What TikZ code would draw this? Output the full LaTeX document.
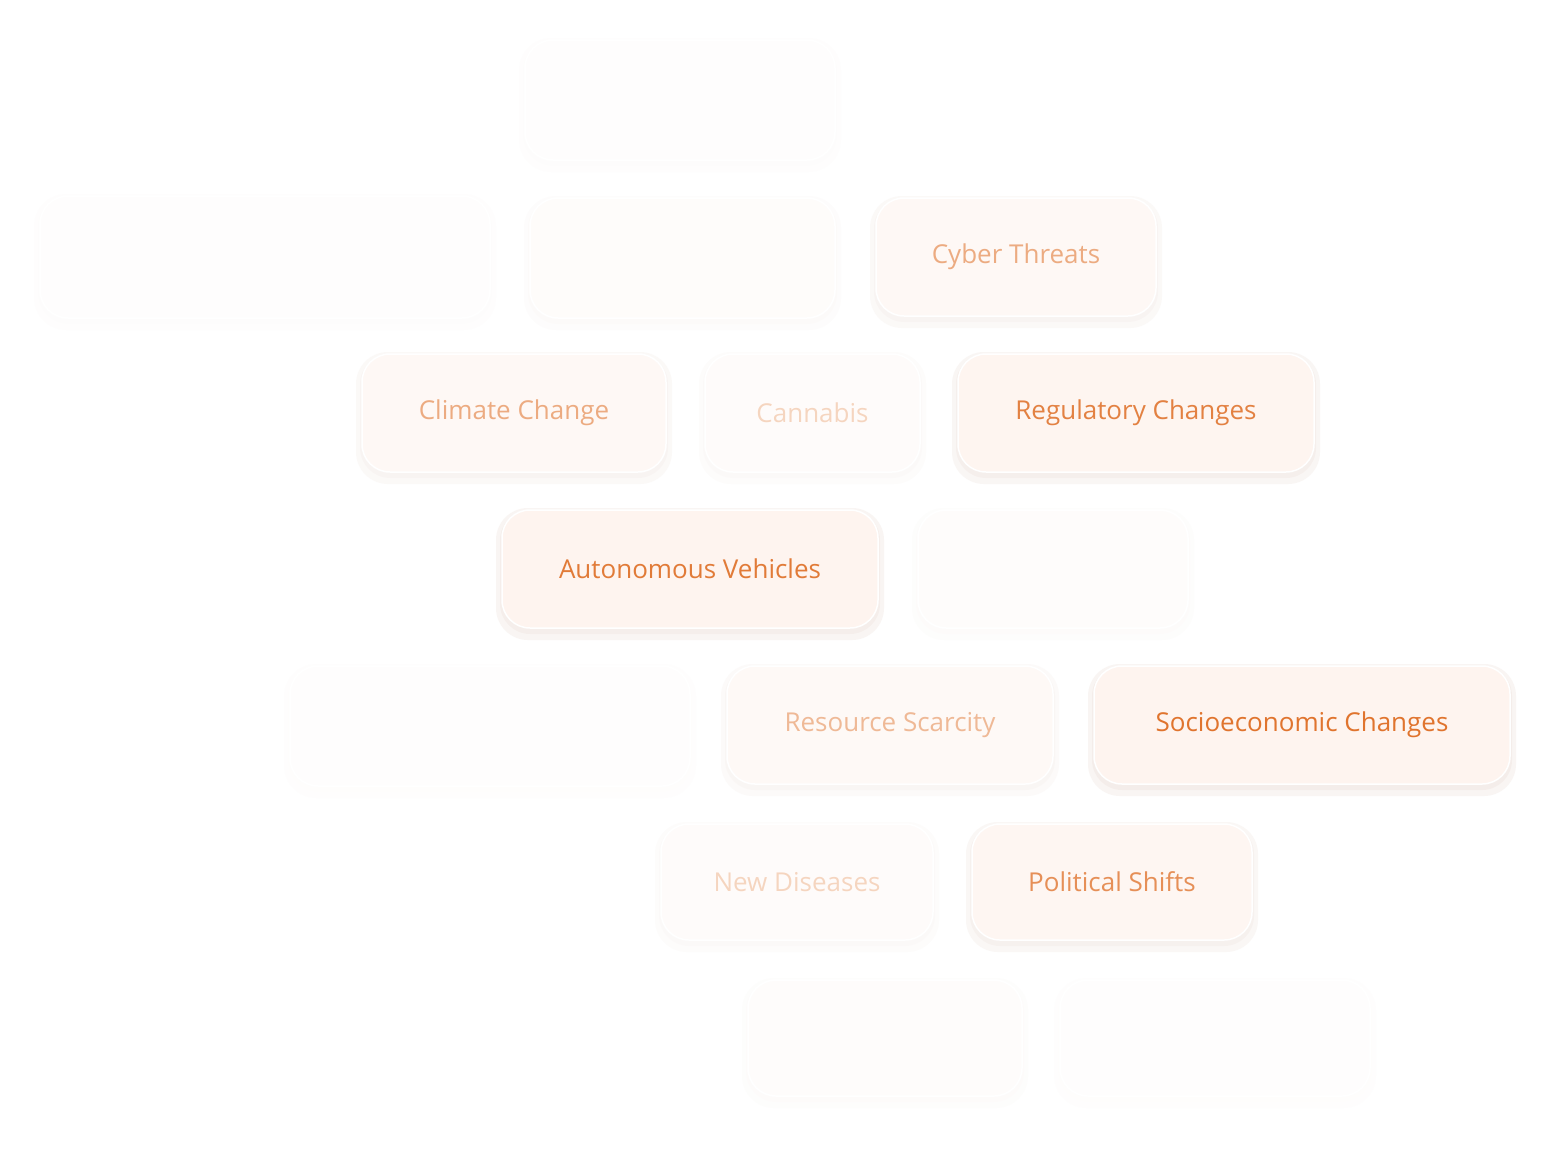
\documentclass[tikz,border=0pt]{standalone}
\usepackage{fontspec}
\setmainfont{Open Sans}
\definecolor{pillfill}{HTML}{FEF4EF}
\definecolor{pilltext}{HTML}{E0742E}
\definecolor{shadowc}{HTML}{E8D8D0}
\tikzset{
  pill/.style={rounded corners=28pt, fill=pillfill, draw=white, line width=1.5pt},
  pilltxt/.style={text=pilltext, font=\fontsize{26}{30}\selectfont}
}
\newcommand{\pillbox}[7]{% name x1 y1 x2 y2 opacity text
  \begin{scope}[opacity=#6, transparency group]
  \fill[shadowc, opacity=0.25, rounded corners=32pt] (#2-6,-#3+2) rectangle (#4+6,-#5-12);
  \fill[shadowc, opacity=0.25, rounded corners=30pt] (#2-2,-#3) rectangle (#4+2,-#5-6);
  \draw[pill] (#2,-#3) rectangle (#4,-#5);
  \node[pilltxt] (#1) at ({(#2+#4)/2},{-(#3+#5)/2}) {#7};
  \end{scope}}
\begin{document}
\begin{tikzpicture}[x=1pt,y=1pt]
\useasboundingbox[fill=white] (0,0) rectangle (1562,-1154);
\pillbox{e1}{525}{40}{835}{160}{0.12}{}
\pillbox{e2}{40}{196}{490}{318}{0.12}{}
\pillbox{e3}{530}{198}{835}{318}{0.25}{}
\pillbox{cyber}{876}{198}{1156}{316}{0.6}{Cyber Threats}
\pillbox{climate}{362}{354}{666}{472}{0.6}{Climate Change}
\pillbox{cannabis}{705}{354}{920}{472}{0.3}{Cannabis}
\pillbox{reg}{958}{354}{1314}{472}{0.9}{Regulatory Changes}
\pillbox{auto}{502}{510}{878}{628}{0.95}{Autonomous Vehicles}
\pillbox{e4}{918}{510}{1188}{628}{0.2}{}
\pillbox{e5}{290}{666}{690}{786}{0.1}{}
\pillbox{res}{727}{666}{1053}{784}{0.5}{Resource Scarcity}
\pillbox{socio}{1094}{666}{1510}{784}{1}{Socioeconomic Changes}
\pillbox{dis}{661}{824}{933}{940}{0.3}{New Diseases}
\pillbox{pol}{972}{824}{1252}{940}{0.8}{Political Shifts}
\pillbox{e6}{748}{980}{1022}{1096}{0.2}{}
\pillbox{e7}{1060}{980}{1370}{1096}{0.1}{}
\end{tikzpicture}
\end{document}
